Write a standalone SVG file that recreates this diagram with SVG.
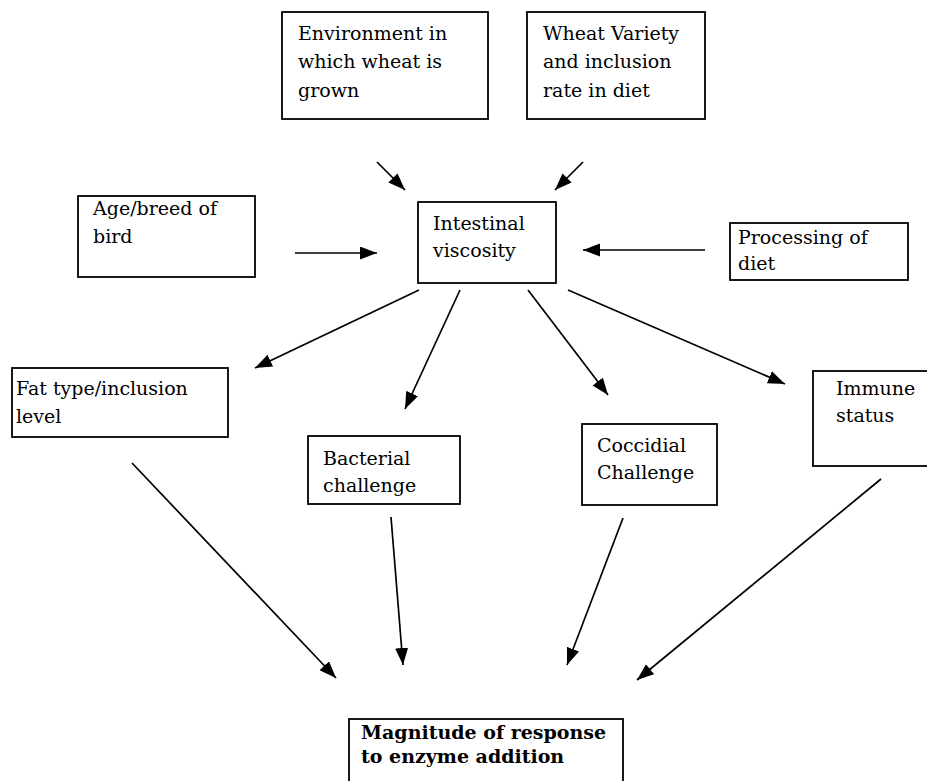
<svg xmlns="http://www.w3.org/2000/svg" width="927" height="781" viewBox="0 0 927 781">
<defs>
<marker id="ah" markerUnits="userSpaceOnUse" markerWidth="20" markerHeight="14" refX="17" refY="6.5" orient="auto">
<path d="M0,0 L17,6.5 L0,13 z" fill="#000"/>
</marker>
<style>
.box{fill:#fff;stroke:#000;stroke-width:1.8}
.t{font-family:"DejaVu Serif","Liberation Serif",serif;font-size:19px;fill:#000}
.b{font-weight:bold}
.c{stroke:#000;stroke-width:1.7;fill:none;marker-end:url(#ah)}
</style>
</defs>
<rect width="927" height="781" fill="#fff"/>
<g id="connectors">
<line class="c" x1="377" y1="162" x2="405" y2="190"/>
<line class="c" x1="583" y1="162" x2="555" y2="190"/>
<line class="c" x1="295" y1="253" x2="377" y2="253"/>
<line class="c" x1="705" y1="250" x2="583" y2="250"/>
<line class="c" x1="419" y1="290" x2="255" y2="368"/>
<line class="c" x1="460" y1="290" x2="405" y2="409"/>
<line class="c" x1="528" y1="290" x2="608" y2="395"/>
<line class="c" x1="568" y1="290" x2="785" y2="384"/>
<line class="c" x1="132" y1="463" x2="336" y2="678"/>
<line class="c" x1="391" y1="517" x2="403" y2="665"/>
<line class="c" x1="623" y1="518" x2="567" y2="665"/>
<line class="c" x1="881" y1="479" x2="637" y2="680"/>
</g>
<g id="environment">
<rect class="box" x="282" y="12" width="206" height="107"/>
<text class="t" x="298" y="40">Environment in</text>
<text class="t" x="298" y="68">which wheat is</text>
<text class="t" x="298" y="97">grown</text>
</g>
<g id="wheat">
<rect class="box" x="527" y="12" width="178" height="107"/>
<text class="t" x="543" y="40">Wheat Variety</text>
<text class="t" x="543" y="68">and inclusion</text>
<text class="t" x="543" y="97">rate in diet</text>
</g>
<g id="age">
<rect class="box" x="78" y="196" width="177" height="81"/>
<text class="t" x="93" y="215">Age/breed of</text>
<text class="t" x="93" y="243">bird</text>
</g>
<g id="intestinal">
<rect class="box" x="418" y="202" width="138" height="81"/>
<text class="t" x="433" y="230">Intestinal</text>
<text class="t" x="433" y="257">viscosity</text>
</g>
<g id="processing">
<rect class="box" x="730" y="223" width="178" height="57"/>
<text class="t" x="738" y="244">Processing of</text>
<text class="t" x="738" y="270">diet</text>
</g>
<g id="fat">
<rect class="box" x="12" y="368" width="216" height="69"/>
<text class="t" x="16" y="395">Fat type/inclusion</text>
<text class="t" x="16" y="423">level</text>
</g>
<g id="bacterial">
<rect class="box" x="308" y="436" width="152" height="68"/>
<text class="t" x="323" y="465">Bacterial</text>
<text class="t" x="323" y="492">challenge</text>
</g>
<g id="coccidial">
<rect class="box" x="582" y="424" width="135" height="81"/>
<text class="t" x="597" y="452">Coccidial</text>
<text class="t" x="597" y="479">Challenge</text>
</g>
<g id="immune">
<rect class="box" x="813" y="371" width="130" height="95"/>
<text class="t" x="836" y="395">Immune</text>
<text class="t" x="836" y="422">status</text>
</g>
<g id="magnitude">
<rect class="box" x="349" y="719" width="274" height="80"/>
<text class="t b" x="361" y="739">Magnitude of response</text>
<text class="t b" x="361" y="763">to enzyme addition</text>
</g>
</svg>
